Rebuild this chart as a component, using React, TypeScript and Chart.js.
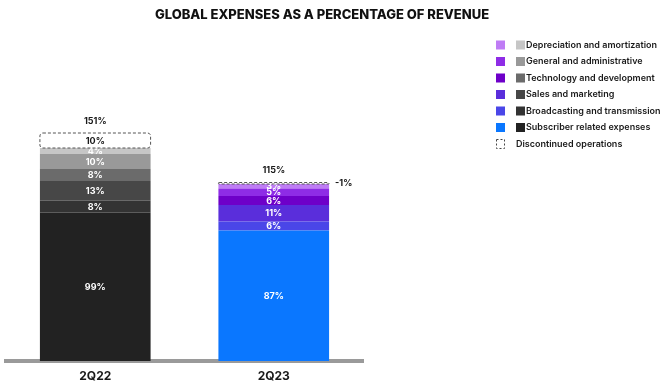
import React, { useEffect, useRef } from "react";
import { Chart, registerables } from "chart.js";

Chart.register(...registerables);

const categories = ["2Q22", "2Q23"];
const subscriber = [99, 87];
const broadcasting = [8, 6];
const sales = [13, 11];
const technology = [8, 6];
const general = [10, 5];
const depreciation = [4, 3];
const discontinued = [10, -1];
const totals = [151, 115];

const seriesNames = [
  "Subscriber related expenses",
  "Broadcasting and transmission",
  "Sales and marketing",
  "Technology and development",
  "General and administrative",
  "Depreciation and amortization",
];
const grayColors = ["#222222", "#333333", "#474747", "#6b6b6b", "#999999", "#c6c6c6"];
const purpleColors = ["#0a77ff", "#4a46e8", "#5a2edb", "#6e00c9", "#8e2ce6", "#bf7cf5"];

const FONT = "Inter, 'Open Sans', sans-serif";

const labelsPlugin = {
  id: "customLabels",
  afterDatasetsDraw(chart: any) {
    const ctx = chart.ctx;
    ctx.save();
    ctx.textAlign = "center";
    ctx.textBaseline = "middle";
    const n = chart.data.datasets.length;
    for (let d = 0; d < n; d++) {
      const meta = chart.getDatasetMeta(d);
      meta.data.forEach((el: any, i: number) => {
        const { x, y, base, width } = el.getProps(["x", "y", "base", "width"], true);
        if (d < n - 1) {
          const v = chart.data.datasets[d].data[i];
          ctx.fillStyle = "#ffffff";
          ctx.font = `700 9px ${FONT}`;
          ctx.fillText(`${v}%`, x, (y + base) / 2 + 0.5);
        } else {
          const raw = discontinued[i];
          const top = Math.min(y, base);
          const h = Math.abs(base - y);
          ctx.strokeStyle = "#555555";
          ctx.lineWidth = 1;
          ctx.setLineDash([3, 2]);
          ctx.beginPath();
          if (ctx.roundRect) ctx.roundRect(x - width / 2, top, width, h, 3);
          else ctx.rect(x - width / 2, top, width, h);
          ctx.stroke();
          ctx.setLineDash([]);
          ctx.fillStyle = "#1a1a1a";
          ctx.font = `700 9px ${FONT}`;
          if (raw >= 0) {
            ctx.fillText(`${raw}%`, x, top + h / 2 + 0.5);
          } else {
            ctx.textAlign = "left";
            ctx.fillText(`${raw}%`, x + width / 2 + 6, top + 1);
            ctx.textAlign = "center";
          }
          ctx.fillText(`${totals[i]}%`, x, top - 12);
        }
      });
    }
    ctx.restore();
  },
};

const decorPlugin = {
  id: "decor",
  afterDraw(chart: any) {
    const ctx = chart.ctx;
    ctx.save();
    ctx.fillStyle = "#111111";
    ctx.textAlign = "center";
    ctx.textBaseline = "middle";
    ctx.font = `800 13px ${FONT}`;
    ctx.fillText("GLOBAL EXPENSES AS A PERCENTAGE OF REVENUE", 322, 15);

    ctx.textAlign = "left";
    ctx.font = `600 9px ${FONT}`;
    const rowY0 = 45;
    const step = 16.5;
    for (let r = 0; r < 6; r++) {
      const s = 5 - r;
      const cy = rowY0 + r * step;
      ctx.fillStyle = purpleColors[s];
      ctx.fillRect(496, cy - 4.5, 9, 9);
      ctx.fillStyle = grayColors[s];
      ctx.fillRect(516, cy - 4.5, 9, 9);
      ctx.fillStyle = "#1a1a1a";
      ctx.fillText(seriesNames[s], 526, cy);
    }
    const cy = rowY0 + 6 * step;
    ctx.strokeStyle = "#444444";
    ctx.lineWidth = 1;
    ctx.setLineDash([2, 2]);
    ctx.strokeRect(496.5, cy - 4.5, 8, 9);
    ctx.setLineDash([]);
    ctx.fillStyle = "#1a1a1a";
    ctx.fillText("Discontinued operations", 516, cy);
    ctx.restore();
  },
};

export default function App() {
  const ref = useRef<HTMLCanvasElement>(null);
  useEffect(() => {
    document.body.style.margin = "0";
    const seriesData = [subscriber, broadcasting, sales, technology, general, depreciation];
    const datasets: any[] = seriesData.map((arr, s) => ({
      label: seriesNames[s],
      data: arr,
      backgroundColor: [grayColors[s], purpleColors[s]],
      borderWidth: 0,
      stack: "a",
    }));
    datasets.push({
      label: "Discontinued operations",
      data: discontinued.map((v) => Math.abs(v)),
      backgroundColor: ["#ffffff", "rgba(0,0,0,0)"],
      borderWidth: 0,
      stack: "a",
    });
    const chart = new Chart(ref.current as HTMLCanvasElement, {
      type: "bar",
      data: { labels: categories, datasets },
      options: {
        animation: false,
        responsive: false,
        layout: { padding: { left: 6, right: 303, top: 46, bottom: 0 } },
        datasets: { bar: { categoryPercentage: 1, barPercentage: 0.62 } },
        plugins: { legend: { display: false }, tooltip: { enabled: false }, title: { display: false } },
        scales: {
          x: {
            stacked: true,
            grid: { display: false, drawTicks: false },
            border: { display: true, color: "#9a9a9a", width: 4 },
            ticks: { color: "#1a1a1a", font: { family: FONT, size: 12, weight: "bold", lineHeight: 1 }, padding: 9 },
          },
          y: { stacked: true, display: false, min: 0, max: 210 },
        },
      },
      plugins: [labelsPlugin, decorPlugin],
    });
    return () => chart.destroy();
  }, []);
  return (
    <div style={{ width: 666, height: 391 }}>
      <canvas ref={ref} width={666} height={391} />
    </div>
  );
}
